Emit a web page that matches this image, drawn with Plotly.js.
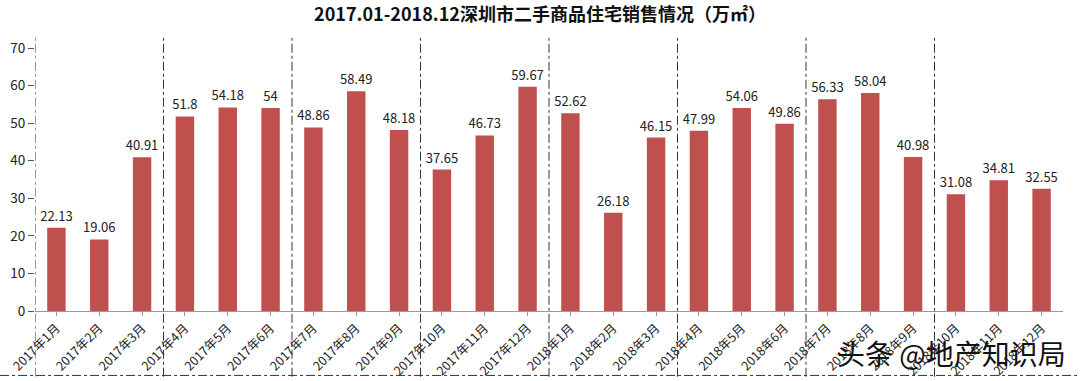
<!DOCTYPE html>
<html><head><meta charset="utf-8">
<script src="https://cdn.plot.ly/plotly-3.0.1.min.js"></script>
<style>html,body{margin:0;padding:0;background:#fff}</style>
</head><body>
<div id="chart" style="width:1080px;height:381px"></div>
<script>
const months = ["2017年1月","2017年2月","2017年3月","2017年4月","2017年5月","2017年6月","2017年7月","2017年8月","2017年9月","2017年10月","2017年11月","2017年12月","2018年1月","2018年2月","2018年3月","2018年4月","2018年5月","2018年6月","2018年7月","2018年8月","2018年9月","2018年10月","2018年11月","2018年12月"];
const sales = [22.13,19.06,40.91,51.8,54.18,54,48.86,58.49,48.18,37.65,46.73,59.67,52.62,26.18,46.15,47.99,54.06,49.86,56.33,58.04,40.98,31.08,34.81,32.55];
const labels = ["22.13","19.06","40.91","51.8","54.18","54","48.86","58.49","48.18","37.65","46.73","59.67","52.62","26.18","46.15","47.99","54.06","49.86","56.33","58.04","40.98","31.08","34.81","32.55"];
const yTicks = [0,10,20,30,40,50,60,70];

const font = "'Noto Sans CJK SC','Open Sans',sans-serif";
const xIdx = months.map((m,i)=>i);
const shapes = [];
for (let k=0;k<=7;k++){
  shapes.push({type:'line',xref:'x',yref:'paper',x0:k*3-0.5,x1:k*3-0.5,y0:-0.25,y1:1.04,
    line:{color:'#333',width:1,dash:'dashdot'}});
}
shapes.push({type:'line',xref:'paper',yref:'paper',x0:-0.034,x1:1.02,y0:-0.245,y1:-0.245,
  line:{color:'#333',width:1,dash:'dashdot'}});

Plotly.newPlot('chart',[{
  type:'bar', x:xIdx, y:sales, text:labels, textposition:'outside', constraintext:'none',
  textfont:{size:13,color:'#222',family:font}, outsidetextfont:{size:13,color:'#222',family:font},
  cliponaxis:false, marker:{color:'#C0504D'}, hoverinfo:'none'
}],{
  width:1080,height:381,
  margin:{l:35,r:17,t:48,b:70},
  paper_bgcolor:'#fff',plot_bgcolor:'#fff',
  bargap:0.57, showlegend:false,
  title:{text:'<b>2017.01-2018.12深圳市二手商品住宅销售情况（万㎡）</b>',x:0.5,xanchor:'center',y:0.962,yanchor:'middle',
    font:{size:18,color:'#111',family:font}},
  xaxis:{tickmode:'array',tickvals:xIdx,ticktext:months,tickangle:-45,range:[-0.5,23.5],
    showline:true,linecolor:'#999',linewidth:1,ticks:'outside',ticklen:4,tickcolor:'#999',
    tickfont:{size:12.5,color:'#222',family:font},showgrid:false,zeroline:false,fixedrange:true},
  yaxis:{range:[0,70],tickvals:yTicks,showline:false,ticks:'outside',ticklen:6,tickcolor:'#555',
    tickfont:{size:13.5,color:'#222',family:font},showgrid:false,zeroline:false,fixedrange:true},
  shapes:shapes,
  annotations:[
    {xref:'paper',yref:'paper',x:1.005,y:-0.16,xanchor:'right',yanchor:'middle',showarrow:false,
     text:'头条 @地产知识局',font:{size:28,color:'#111',family:font}}
  ]
},{displayModeBar:false,staticPlot:true});
</script>
</body></html>
